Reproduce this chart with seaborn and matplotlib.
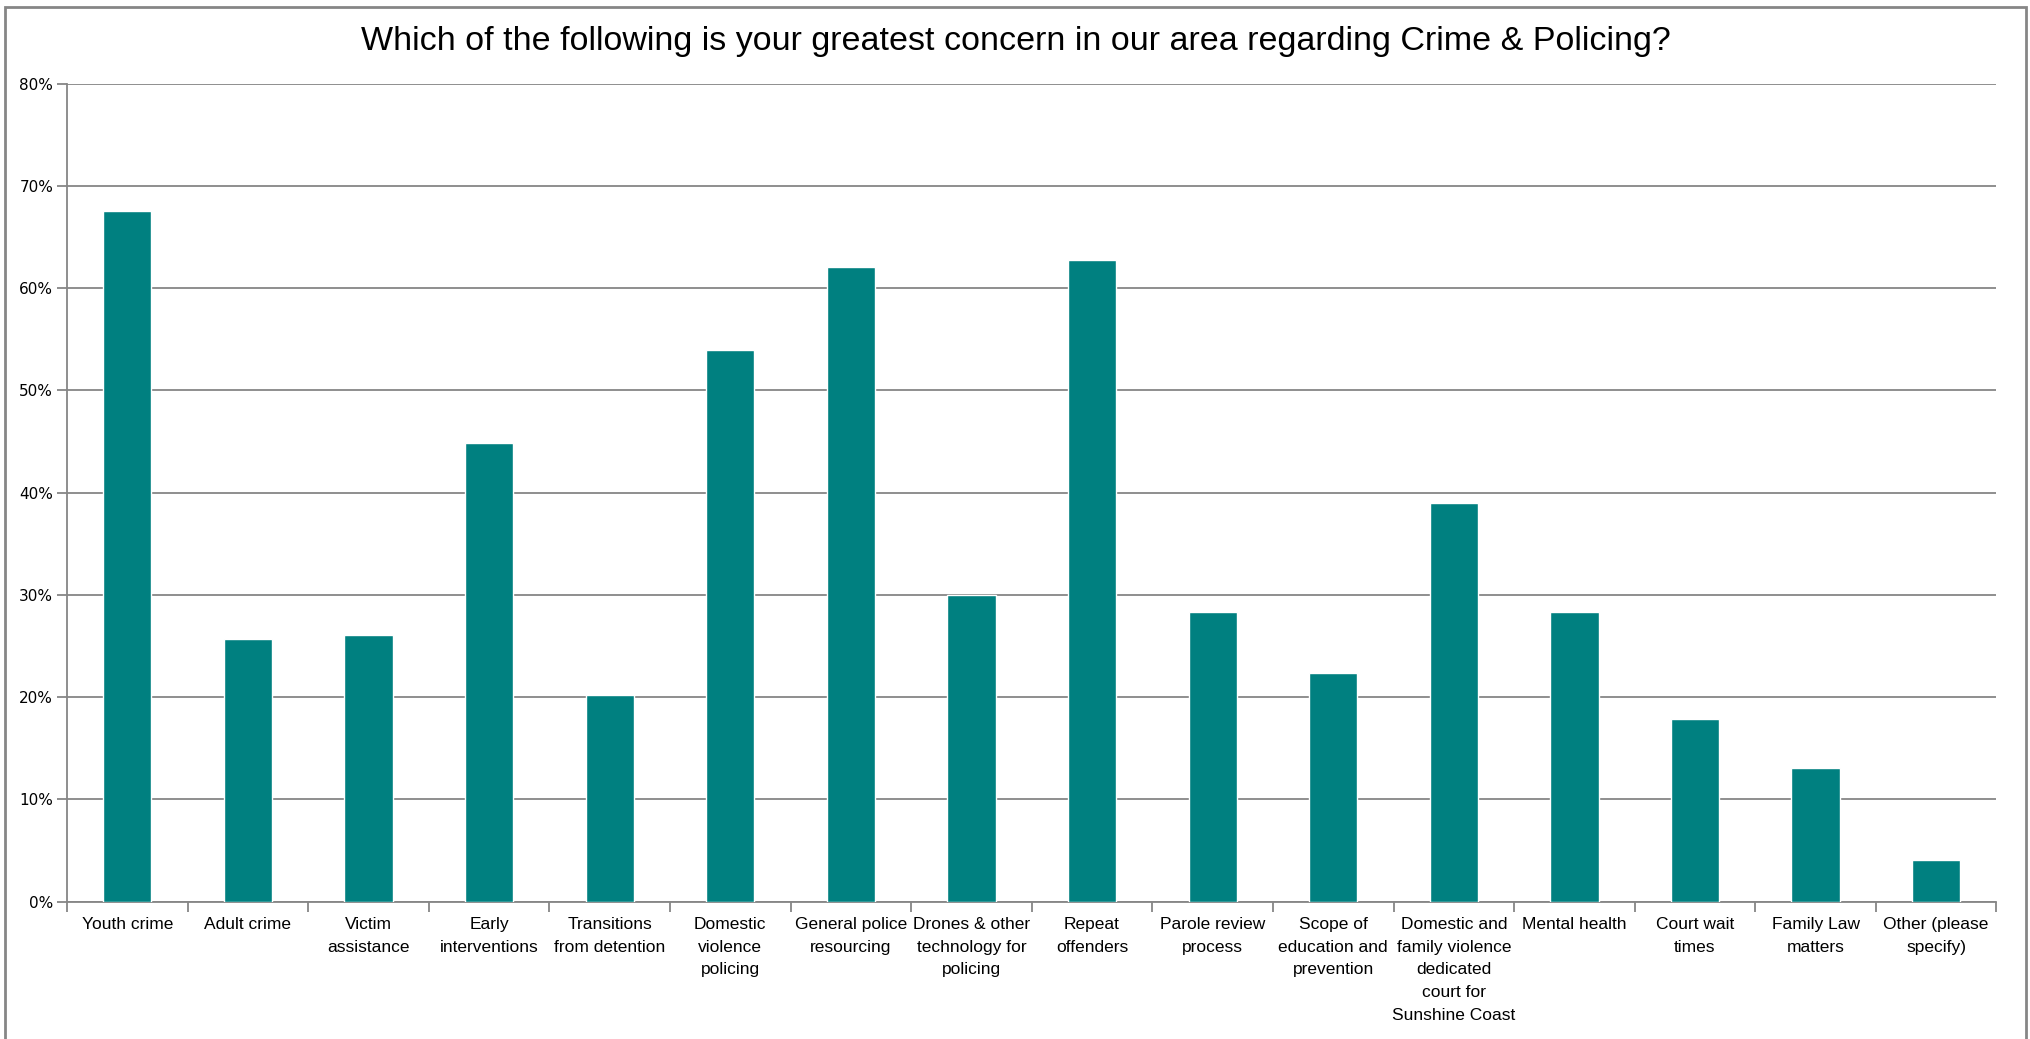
import numpy as np
import pandas as pd
import matplotlib
matplotlib.use("Agg")
import matplotlib.pyplot as plt
import seaborn as sns
from matplotlib.patches import Rectangle
from matplotlib.ticker import PercentFormatter

# Categories (wrapped as on the original chart)
categories = [
    "Youth crime", "Adult crime", "Victim\nassistance", "Early\ninterventions",
    "Transitions\nfrom detention", "Domestic\nviolence\npolicing",
    "General police\nresourcing", "Drones & other\ntechnology for\npolicing",
    "Repeat\noffenders", "Parole review\nprocess", "Scope of\neducation and\nprevention",
    "Domestic and\nfamily violence\ndedicated\ncourt for\nSunshine Coast",
    "Mental health", "Court wait\ntimes", "Family Law\nmatters", "Other (please\nspecify)",
]
# Share of respondents (%)
values = [67.6, 25.7, 26.1, 44.9, 20.2, 54.0, 62.1, 30.0,
          62.8, 28.3, 22.4, 39.0, 28.3, 17.9, 13.1, 4.1]
y_ticks = [0, 10, 20, 30, 40, 50, 60, 70, 80]

df = pd.DataFrame({"Concern": categories, "Percent": values})

sns.set_style("white")
plt.rcParams["font.family"] = ["Liberation Sans", "DejaVu Sans"]

fig = plt.figure(figsize=(20.31, 10.39), dpi=100)
ax = fig.add_axes([0.033, 0.1323, 0.950, 0.787])

sns.barplot(data=df, x="Concern", y="Percent", color="#008080", width=0.4,
            saturation=1, ax=ax, zorder=3)

grid_col = "#868686"
ax.set_ylim(0, 80)
ax.set_xlim(-0.5, len(categories) - 0.5)
ax.set_yticks(y_ticks)
ax.yaxis.set_major_formatter(PercentFormatter(decimals=0))
ax.yaxis.grid(True, color=grid_col, linewidth=1.3, zorder=0)
ax.set_axisbelow(True)
ax.set_xlabel("")
ax.set_ylabel("")

for s in ["top", "right"]:
    ax.spines[s].set_visible(False)
for s in ["left", "bottom"]:
    ax.spines[s].set_color(grid_col)
    ax.spines[s].set_linewidth(1.3)

# tick marks between categories, like the original
ax.set_xticks(np.arange(-0.5, len(categories), 1), minor=True)
ax.tick_params(axis="x", which="major", length=0, pad=11)
ax.tick_params(axis="x", which="minor", length=7, color=grid_col, width=1.3,
               direction="out", bottom=True)
ax.tick_params(axis="y", length=7, color=grid_col, width=1.3, direction="out",
               left=True, pad=3)

for lbl in ax.get_xticklabels():
    lbl.set_fontsize(12.5)
    lbl.set_linespacing(1.65)
    lbl.set_color("#000000")
for lbl in ax.get_yticklabels():
    lbl.set_family(["DejaVu Sans"])
    lbl.set_fontsize(11)
    lbl.set_color("#000000")

fig.text(0.5, 0.960, "Which of the following is your greatest concern in our area regarding Crime & Policing?",
         ha="center", va="center", fontsize=24.5, color="#000000")

# outer chart border (open at the bottom like the cropped original)
fig.add_artist(Rectangle((5 / 2031, -0.05), (2026 - 5) / 2031, 1.05 - 7 / 1039,
                         transform=fig.transFigure, fill=False,
                         edgecolor=grid_col, linewidth=2, clip_on=False))

fig.savefig("out.png", dpi=100)
